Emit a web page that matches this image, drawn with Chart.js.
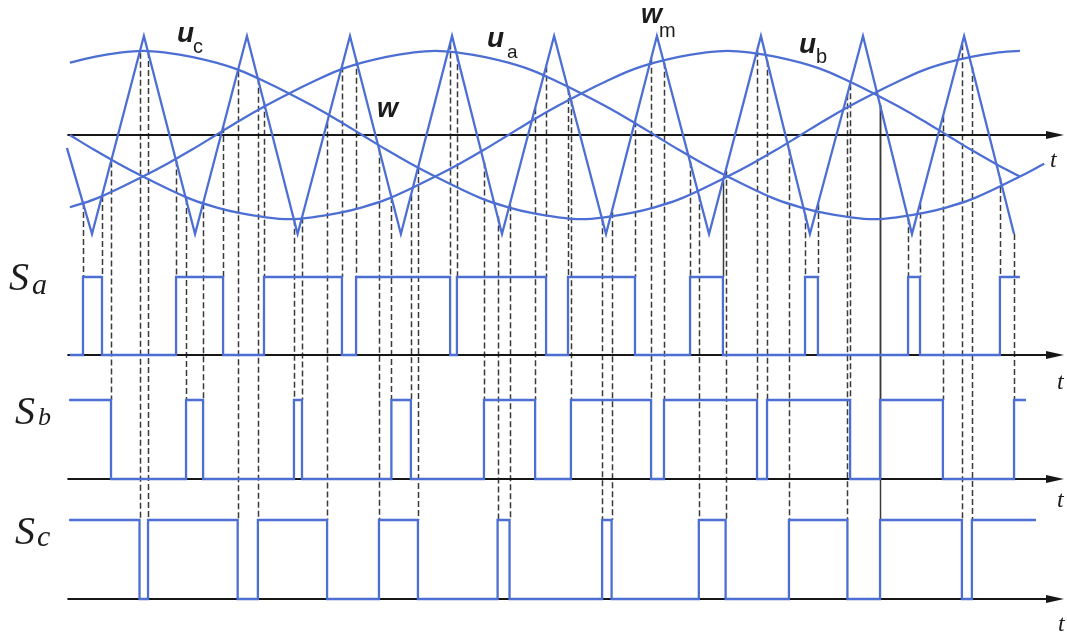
<!DOCTYPE html>
<html>
<head>
<meta charset="utf-8">
<script src="https://cdn.jsdelivr.net/npm/chart.js@4.4.1/dist/chart.umd.min.js"></script>
<style>
  html, body { margin: 0; padding: 0; background: #fff; }
  canvas { display: block; }
</style>
</head>
<body>
<canvas id="spwm" width="1067" height="632"></canvas>
<script>
// --- DATA (angles in degrees of the fundamental) ---

// reference sines u_a, u_b, u_c sampled every 10 deg
const sineAngles = [-60, -50, -40, -30, -20, -10, 0, 10, 20, 30, 40, 50, 60, 70, 80, 90, 100, 110, 120, 130,
                    140, 150, 160, 170, 180, 190, 200, 210, 220, 230, 240, 250, 260, 270, 280, 290, 300, 310, 320, 330, 340];
const uaValues = [-0.73, -0.65, -0.54, -0.42, -0.29, -0.15, 0, 0.15, 0.29, 0.42, 0.54, 0.65, 0.73, 0.79, 0.83, 0.85, 0.83, 0.79, 0.73, 0.65,
                  0.54, 0.42, 0.29, 0.15, 0, -0.15, -0.29, -0.42, -0.54, -0.65, -0.73, -0.79, -0.83, -0.85, -0.83, -0.79, -0.73, -0.65, -0.54, -0.42, -0.29];
const ubValues = [0, -0.15, -0.29, -0.42, -0.54, -0.65, -0.73, -0.79, -0.83, -0.85, -0.83, -0.79, -0.73, -0.65, -0.54, -0.42, -0.29, -0.15, 0, 0.15,
                  0.29, 0.42, 0.54, 0.65, 0.73, 0.79, 0.83, 0.85, 0.83, 0.79, 0.73, 0.65, 0.54, 0.42, 0.29, 0.15, 0, -0.15, -0.29, -0.42, null];
const ucValues = [0.73, 0.79, 0.83, 0.85, 0.83, 0.79, 0.73, 0.65, 0.54, 0.42, 0.29, 0.15, 0, -0.15, -0.29, -0.42, -0.54, -0.65, -0.73, -0.79,
                  -0.83, -0.85, -0.83, -0.79, -0.73, -0.65, -0.54, -0.42, -0.29, -0.15, 0, 0.15, 0.29, 0.42, 0.54, 0.65, 0.73, 0.79, 0.83, 0.85, null];

// triangular carrier w: corner angles and levels
const carrierAngles = [-61.2, -50.9, -29.6, -8.6, 12.7, 33.5, 55.0, 75.9, 96.9, 117.4, 138.8, 160.1, 181.0, 202.4, 223.7, 243.8, 265.6, 285.7, 307.1, 327.6];
const carrierLevels = [-0.13, -1, 1, -1, 1, -1, 1, -1, 1, -1, 1, -1, 1, -1, 1, -1, 1, -1, 1, -1];

// switching functions: start angle/level, toggle angles, end angle
const saStart = [-60, 0];
const saEdges = [-54.6, -46.8, -16.4, 2.9, 19.7, 51.7, 57.5, 96.1, 98.9, 135.5, 144.5, 172.0, 194.6, 208.1, 241.8, 247.1, 284.1, 289.0, 321.8];
const saEnd = 330.0;
const sbStart = [-60.3, 1];
const sbEdges = [-43.1, -12.3, -5.3, 32.0, 35.3, 72.0, 80.0, 110.0, 131.0, 145.7, 178.6, 183.9, 222.1, 226.2, 260.3, 272.6, 298.4, 327.6];
const sbEnd = 332.5;
const scStart = [-60.3, 1];
const scEdges = [-31.4, -27.9, 8.9, 17.2, 45.6, 66.9, 82.9, 115.6, 120.5, 158.5, 162.4, 198.2, 209.2, 235.2, 259.2, 272.6, 306.2, 310.3];
const scEnd = 336.6;

// crossings that the figure draws with a solid (not dashed) drop line
const solidDrops = [208.1, 272.6];

// time axes (start angle, arrow angle)
const axisSpan = [-61, 344.4];

// --- LAYOUT (pixels) ---
const W = 1067, H = 632;
const xOrigin = 216, degPx = 2.436;                 // pixel of angle 0, pixels per degree
const bands = { yW: [135, 99], yA: [355, 78], yB: [479, 79], yC: [599, 79] };  // zero pixel, pixels per unit
const BLUE = '#4d6fd4', AXIS = '#161616', DASH = '#3a3a3a';

const rangeOf = ([zero, unit]) => ({ min: (zero - H) / unit, max: zero / unit });

const curve = (vals) => sineAngles.map((a, i) => ({ x: a, y: vals[i] }));
const carrierPts = carrierAngles.map((a, i) => ({ x: a, y: carrierLevels[i] }));

const switching = (start, edges, end) => {
    let level = start[1];
    const pts = [{ x: start[0], y: level }];
    edges.forEach(e => { level = 1 - level; pts.push({ x: e, y: level }); });
    pts.push({ x: end, y: level });
    return pts;
};

const carrierAt = (t) => {
    for (let i = 1; i < carrierAngles.length; i++) {
        if (t <= carrierAngles[i]) {
            const a0 = carrierAngles[i - 1], a1 = carrierAngles[i];
            const f = (t - a0) / (a1 - a0);
            return carrierLevels[i - 1] + f * (carrierLevels[i] - carrierLevels[i - 1]);
        }
    }
    return carrierLevels[carrierLevels.length - 1];
};

// arrow head used as point style at the end of each time axis
const arrow = document.createElement('canvas');
arrow.width = 18; arrow.height = 10;
const actx = arrow.getContext('2d');
actx.fillStyle = AXIS;
actx.beginPath(); actx.moveTo(0, 1); actx.lineTo(18, 5); actx.lineTo(0, 9); actx.closePath(); actx.fill();

const axisLine = (yAxisID) => ({
    data: [{ x: axisSpan[0], y: 0 }, { x: axisSpan[1], y: 0 }],
    yAxisID, showLine: true, borderColor: AXIS, borderWidth: 2,
    pointRadius: [0, 9], pointStyle: arrow, order: 5
});
const blueLine = (data, yAxisID, extra) => Object.assign({
    data, yAxisID, showLine: true, borderColor: BLUE, borderWidth: 2.3, pointRadius: 0, order: 1
}, extra || {});

const phases = [
    { edges: saEdges, axis: 'yA' },
    { edges: sbEdges, axis: 'yB' },
    { edges: scEdges, axis: 'yC' }
];

// dashed drop lines from the carrier crossings down to each switching panel
const dropLines = {
    id: 'dropLines',
    beforeDatasetsDraw(chart) {
        const { ctx, scales } = chart;
        ctx.save();
        ctx.strokeStyle = DASH;
        ctx.lineWidth = 1.5;
        phases.forEach(p => p.edges.forEach(t => {
            const x = Math.round(scales.x.getPixelForValue(t)) + 0.5;
            ctx.setLineDash(solidDrops.includes(t) ? [] : [6, 3]);
            ctx.beginPath();
            ctx.moveTo(x, scales.yW.getPixelForValue(carrierAt(t)));
            ctx.lineTo(x, scales[p.axis].getPixelForValue(1));
            ctx.stroke();
        }));
        ctx.restore();
    }
};

const textMarks = [
    { text: 'u', font: 'italic bold 28px "Liberation Sans"', x: 177, y: 42 },
    { text: 'c', font: '20px "Liberation Sans"', x: 193, y: 53 },
    { text: 'w', font: 'italic bold 27px "Liberation Sans"', x: 377, y: 117 },
    { text: 'u', font: 'italic bold 28px "Liberation Sans"', x: 487, y: 47 },
    { text: 'a', font: '19px "Liberation Sans"', x: 507, y: 58 },
    { text: 'w', font: 'italic bold 27px "Liberation Sans"', x: 641, y: 23 },
    { text: 'm', font: '20px "Liberation Sans"', x: 659, y: 37 },
    { text: 'u', font: 'italic bold 28px "Liberation Sans"', x: 799, y: 53 },
    { text: 'b', font: '20px "Liberation Sans"', x: 816, y: 63 },
    { text: 't', font: 'italic 24px "Liberation Serif"', x: 1050, y: 167 },
    { text: 't', font: 'italic 24px "Liberation Serif"', x: 1057, y: 389 },
    { text: 't', font: 'italic 24px "Liberation Serif"', x: 1057, y: 507 },
    { text: 't', font: 'italic 24px "Liberation Serif"', x: 1058, y: 631 },
    { text: 'S', font: 'italic 40px "Liberation Serif"', x: 9, y: 290 },
    { text: 'a', font: 'italic 30px "Liberation Serif"', x: 32, y: 294 },
    { text: 'S', font: 'italic 40px "Liberation Serif"', x: 15, y: 424 },
    { text: 'b', font: 'italic 26px "Liberation Serif"', x: 38, y: 425 },
    { text: 'S', font: 'italic 40px "Liberation Serif"', x: 15, y: 544 },
    { text: 'c', font: 'italic 30px "Liberation Serif"', x: 37, y: 546 }
];

const labels = {
    id: 'labels',
    afterDatasetsDraw(chart) {
        const ctx = chart.ctx;
        ctx.save();
        ctx.fillStyle = '#1c1c1c';
        textMarks.forEach(m => { ctx.font = m.font; ctx.fillText(m.text, m.x, m.y); });
        ctx.restore();
    }
};

const yScales = {};
Object.keys(bands).forEach(k => {
    yScales[k] = Object.assign({ type: 'linear', display: false }, rangeOf(bands[k]));
});

new Chart(document.getElementById('spwm'), {
    type: 'scatter',
    data: {
        datasets: [
            axisLine('yW'), axisLine('yA'), axisLine('yB'), axisLine('yC'),
            blueLine(curve(uaValues), 'yW', { tension: 0.35 }),
            blueLine(curve(ubValues), 'yW', { tension: 0.35 }),
            blueLine(curve(ucValues), 'yW', { tension: 0.35 }),
            blueLine(carrierPts, 'yW'),
            blueLine(switching(saStart, saEdges, saEnd), 'yA', { stepped: 'before' }),
            blueLine(switching(sbStart, sbEdges, sbEnd), 'yB', { stepped: 'before' }),
            blueLine(switching(scStart, scEdges, scEnd), 'yC', { stepped: 'before' })
        ]
    },
    options: {
        responsive: false,
        animation: false,
        events: [],
        layout: { padding: 0, autoPadding: false },
        plugins: { legend: { display: false }, tooltip: { enabled: false } },
        scales: Object.assign({
            x: { type: 'linear', display: false, min: -xOrigin / degPx, max: (W - xOrigin) / degPx }
        }, yScales)
    },
    plugins: [dropLines, labels]
});
</script>
</body>
</html>
